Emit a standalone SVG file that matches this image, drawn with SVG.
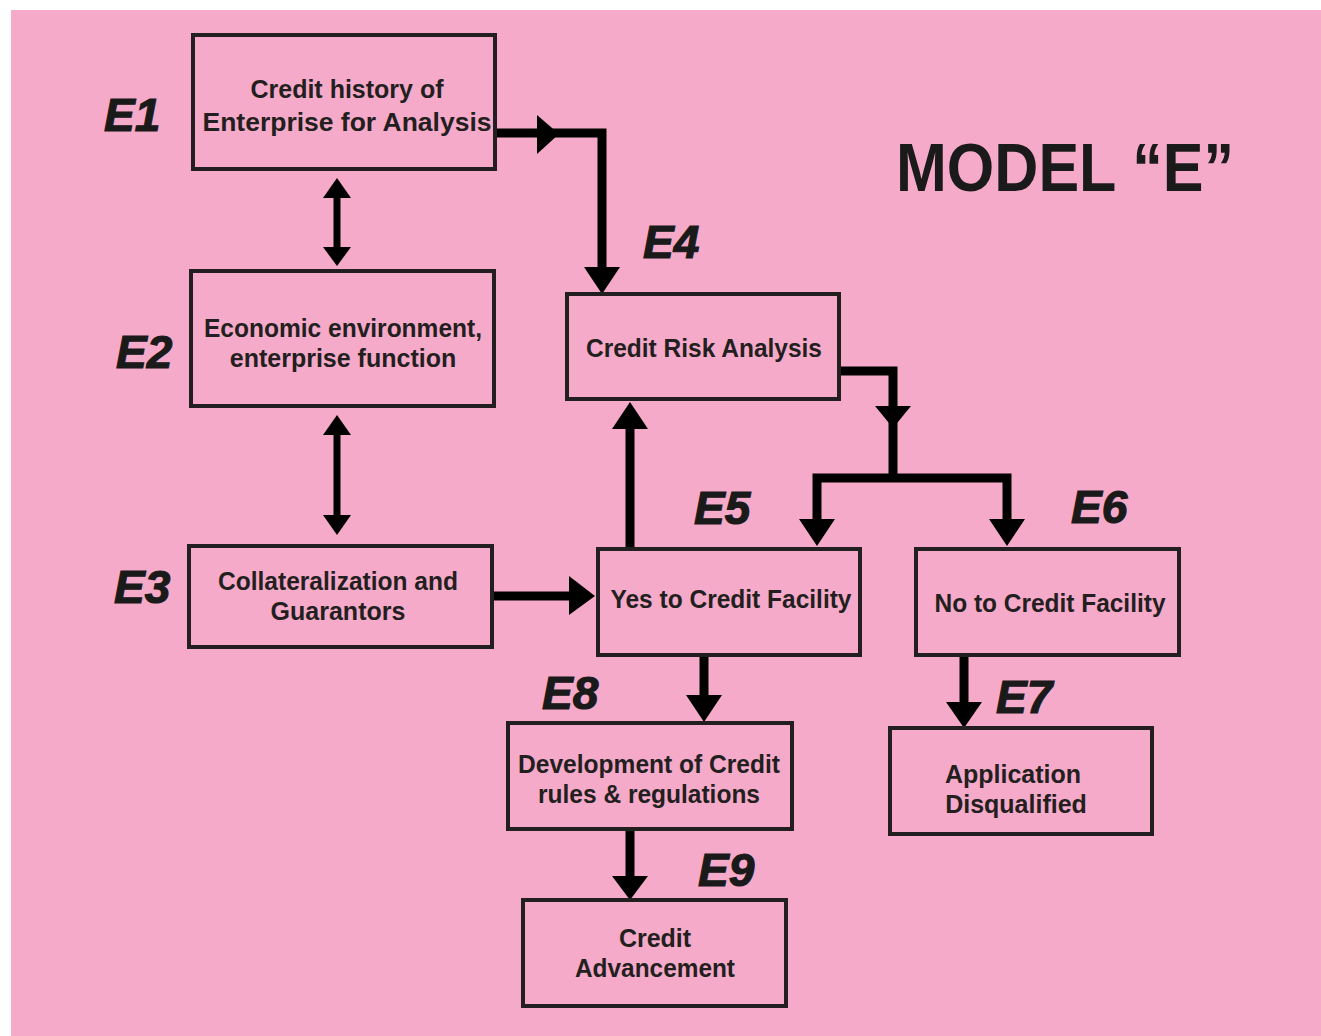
<svg xmlns="http://www.w3.org/2000/svg" width="1321" height="1036" viewBox="0 0 1321 1036">
<style>
.box{fill:none;stroke:#231F20;stroke-width:4}
.t{font-family:"Liberation Sans",Arial,sans-serif;font-weight:bold;font-size:25px;fill:#231F20;text-anchor:middle}
.lbl{font-family:"Liberation Sans",Arial,sans-serif;font-weight:bold;font-style:italic;font-size:46px;fill:#1a1a1a;stroke:#1a1a1a;stroke-width:1.2}
.ttl{font-family:"Liberation Sans",Arial,sans-serif;font-weight:bold;font-size:68px;fill:#1a1a1a}
.ln{fill:none;stroke:#000;stroke-width:9;stroke-linejoin:miter;stroke-linecap:butt}
.ln7{fill:none;stroke:#000;stroke-width:7}
.hd{fill:#000}
</style>
<rect x="11" y="10" width="1310" height="1026" fill="#F6AAC9"/>
<text class="ttl" x="896" y="191" textLength="338" lengthAdjust="spacingAndGlyphs">MODEL “E”</text>

<g id="connectors">
<line class="ln7" x1="337" y1="195" x2="337" y2="250"/>
<polygon class="hd" points="337,178 323,198 351,198"/>
<polygon class="hd" points="337,266 323,247 351,247"/>
<line class="ln7" x1="337" y1="432" x2="337" y2="518"/>
<polygon class="hd" points="337,415 323,435 351,435"/>
<polygon class="hd" points="337,535 323,515 351,515"/>
<path class="ln" d="M497 133 H602 V270"/>
<polygon class="hd" points="537,115 537,154 559,134"/>
<polygon class="hd" points="584,267 620,267 602,294"/>
<path class="ln" d="M839 371 H893 V478"/>
<polygon class="hd" points="875,406 911,406 893,428"/>
<path class="ln" d="M817 522 V478 H1007 V522"/>
<polygon class="hd" points="799,519 835,519 817,546"/>
<polygon class="hd" points="989,519 1025,519 1007,546"/>
<line class="ln" x1="630" y1="549" x2="630" y2="425"/>
<polygon class="hd" points="612,429 648,429 630,402"/>
<line class="ln" x1="492" y1="596" x2="572" y2="596"/>
<polygon class="hd" points="569,576 569,615 595,596"/>
<line class="ln" x1="704" y1="656" x2="704" y2="698"/>
<polygon class="hd" points="686,695 722,695 704,722"/>
<line class="ln" x1="964" y1="656" x2="964" y2="705"/>
<polygon class="hd" points="946,702 982,702 964,728"/>
<line class="ln" x1="630" y1="830" x2="630" y2="879"/>
<polygon class="hd" points="612,876 648,876 630,900"/>
</g>

<g id="E1">
<rect class="box" x="193" y="35" width="302" height="134"/>
<text class="t" x="347" y="98">Credit history of</text>
<text class="t" x="347" y="131" textLength="289" lengthAdjust="spacingAndGlyphs">Enterprise for Analysis</text>
<text class="lbl" x="104" y="131">E1</text>
</g>
<g id="E2">
<rect class="box" x="191" y="271" width="303" height="135"/>
<text class="t" x="343" y="337" textLength="278" lengthAdjust="spacingAndGlyphs">Economic environment,</text>
<text class="t" x="343" y="367">enterprise function</text>
<text class="lbl" x="116" y="368">E2</text>
</g>
<g id="E3">
<rect class="box" x="189" y="546" width="303" height="101"/>
<text class="t" x="338" y="590" textLength="240" lengthAdjust="spacingAndGlyphs">Collateralization and</text>
<text class="t" x="338" y="620">Guarantors</text>
<text class="lbl" x="114" y="603">E3</text>
</g>
<g id="E4">
<rect class="box" x="567" y="294" width="272" height="105"/>
<text class="t" x="704" y="357" textLength="236" lengthAdjust="spacingAndGlyphs">Credit Risk Analysis</text>
<text class="lbl" x="643" y="258">E4</text>
</g>
<g id="E5">
<rect class="box" x="598" y="549" width="262" height="106"/>
<text class="t" x="731" y="608" textLength="241" lengthAdjust="spacingAndGlyphs">Yes to Credit Facility</text>
<text class="lbl" x="694" y="524">E5</text>
</g>
<g id="E6">
<rect class="box" x="916" y="549" width="263" height="106"/>
<text class="t" x="1050" y="612" textLength="231" lengthAdjust="spacingAndGlyphs">No to Credit Facility</text>
<text class="lbl" x="1071" y="523">E6</text>
</g>
<g id="E7">
<rect class="box" x="890" y="728" width="262" height="106"/>
<text class="t" x="1013" y="783">Application</text>
<text class="t" x="1016" y="813">Disqualified</text>
<text class="lbl" x="996" y="713">E7</text>
</g>
<g id="E8">
<rect class="box" x="508" y="723" width="284" height="106"/>
<text class="t" x="649" y="773" textLength="262" lengthAdjust="spacingAndGlyphs">Development of Credit</text>
<text class="t" x="649" y="803" textLength="222" lengthAdjust="spacingAndGlyphs">rules &amp; regulations</text>
<text class="lbl" x="542" y="709">E8</text>
</g>
<g id="E9">
<rect class="box" x="523" y="900" width="263" height="106"/>
<text class="t" x="655" y="947">Credit</text>
<text class="t" x="655" y="977" textLength="160" lengthAdjust="spacingAndGlyphs">Advancement</text>
<text class="lbl" x="698" y="886">E9</text>
</g>
</svg>
